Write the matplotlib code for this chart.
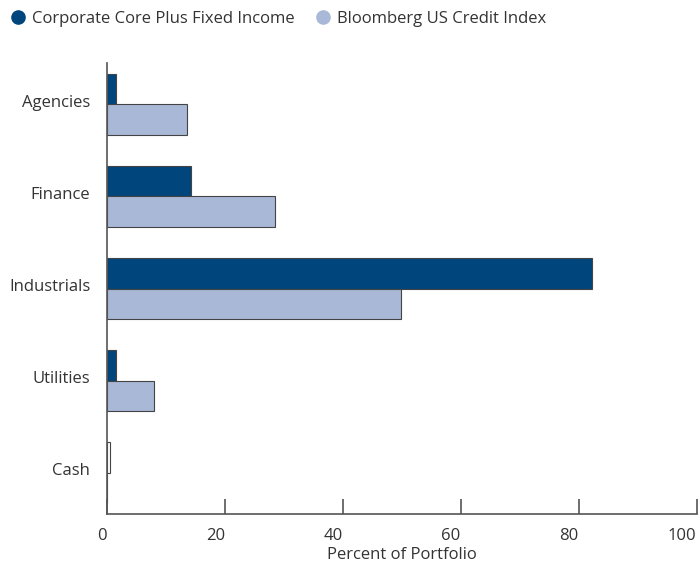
import matplotlib
matplotlib.use("Agg")
import matplotlib.pyplot as plt
from matplotlib.lines import Line2D
import numpy as np

categories = ["Agencies", "Finance", "Industrials", "Utilities", "Cash"]
fund = [1.5, 14.3, 82.2, 1.6, 0.5]
index = [13.6, 28.5, 49.8, 8.0, 0.0]
series_names = ["Corporate Core Plus Fixed Income", "Bloomberg US Credit Index"]
xticks = [0, 20, 40, 60, 80, 100]

DARK = "#00467c"
LIGHT = "#a8b8d6"
TXT = "#333333"
AX = "#555555"

plt.rcParams['font.family'] = ['Open Sans', 'DejaVu Sans']
FS = 12

fig = plt.figure(figsize=(6.98, 5.65), dpi=100)
ax = fig.add_axes([107/698, 1-514/565, (696.5-107)/698, (514-63)/565])

y = np.arange(len(categories))
h = 0.333
fund_colors = [DARK if v >= 1 else "white" for v in fund]
ax.barh(y - h/2, fund, height=h, color=fund_colors, edgecolor="#444444", linewidth=0.8)
ax.barh(y + h/2, index, height=h, color=LIGHT, edgecolor="#444444", linewidth=0.8)

ax.set_ylim(len(categories) - 0.55, -0.45)
ax.set_xlim(0, 100)
ax.set_yticks(y - 0.04)
ax.set_yticklabels(categories, fontsize=FS, color=TXT)
ax.set_xticks(xticks)
ax.set_xticklabels([str(t) for t in xticks], fontsize=FS, color=TXT, ha="right")
ax.tick_params(axis="y", length=0, pad=12)
ax.tick_params(axis="x", direction="in", length=11, width=1.2, color=AX, pad=10)
for s in ["top", "right"]:
    ax.spines[s].set_visible(False)
for s in ["left", "bottom"]:
    ax.spines[s].set_color(AX)
    ax.spines[s].set_linewidth(1.2)
ax.set_xlabel("Percent of Portfolio", fontsize=FS, color=TXT, labelpad=2)

handles = [Line2D([], [], marker="o", linestyle="", markersize=9.5, color=DARK),
           Line2D([], [], marker="o", linestyle="", markersize=9.5, color=LIGHT)]
fig.legend(handles, series_names, loc="center left", bbox_to_anchor=(9.7/698, 1-19/565),
           ncol=2, frameon=False, fontsize=FS, handlelength=1.0, handletextpad=0.34,
           columnspacing=1.2, labelcolor=TXT, borderaxespad=0, borderpad=0)

fig.savefig("out.png", dpi=100)
